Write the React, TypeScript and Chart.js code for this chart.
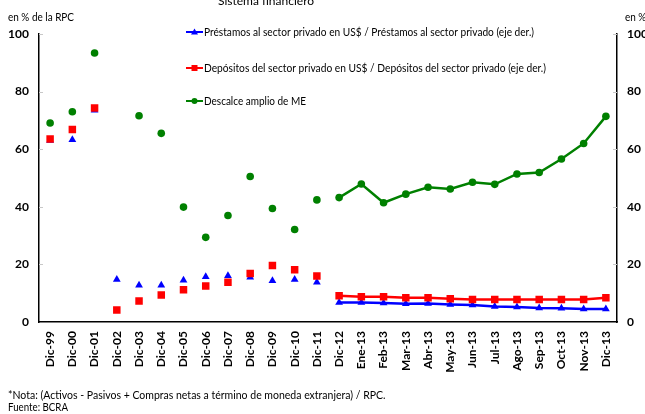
import React, { useEffect, useRef } from 'react';
import { Chart, registerables } from 'chart.js';

Chart.register(...registerables);

const categories = [
  'Dic-99', 'Dic-00', 'Dic-01', 'Dic-02', 'Dic-03', 'Dic-04', 'Dic-05', 'Dic-06', 'Dic-07',
  'Dic-08', 'Dic-09', 'Dic-10', 'Dic-11', 'Dic-12', 'Ene-13', 'Feb-13', 'Mar-13', 'Abr-13',
  'May-13', 'Jun-13', 'Jul-13', 'Ago-13', 'Sep-13', 'Oct-13', 'Nov-13', 'Dic-13',
];

const prestamos = [
  63.0, 63.3, 73.5, 14.8, 12.8, 12.8, 14.5, 15.7, 16.1, 15.5, 14.3, 14.8, 13.8,
  6.8, 6.8, 6.6, 6.3, 6.4, 6.1, 5.9, 5.4, 5.2, 4.9, 4.8, 4.5, 4.5,
];

const depositos = [
  63.5, 66.8, 74.3, 4.2, 7.3, 9.4, 11.2, 12.5, 13.8, 16.8, 19.6, 18.1, 16.0,
  9.1, 8.8, 8.8, 8.4, 8.4, 8.1, 7.8, 7.8, 7.8, 7.8, 7.8, 7.8, 8.4,
];

const descalce = [
  69.1, 73.0, 93.4, null, 71.6, 65.5, 39.9, 29.4, 37.0, 50.5, 39.4, 32.1, 42.4,
  43.2, 47.9, 41.4, 44.4, 46.8, 46.2, 48.5, 47.8, 51.4, 51.9, 56.6, 62.0, 71.4,
];

const yTicks = [0, 20, 40, 60, 80, 100];

const legendLabels = [
  'Préstamos al sector privado en US$ / Préstamos al sector privado (eje der.)',
  'Depósitos del sector privado en US$ / Depósitos del sector privado (eje der.)',
  'Descalce amplio de ME',
];

const titleText = 'Sistema financiero';
const leftUnit = 'en % de la RPC';
const rightUnit = 'en % de la RPC';
const noteText = '*Nota: (Activos - Pasivos + Compras netas a término de moneda extranjera) / RPC.';
const sourceText = 'Fuente: BCRA';

const FONT = 'Lato, "Open Sans", sans-serif';
const BLUE = '#0000ff';
const RED = '#ff0000';
const GREEN = '#008000';
const firstLinked = 13; // lines join points from Dic-12 on

const segColor = (color: string) => (ctx: any) =>
  ctx.p0DataIndex < firstLinked ? 'rgba(0,0,0,0)' : color;

const decorPlugin = {
  id: 'decor',
  afterDraw(chart: any) {
    const ctx = chart.ctx;
    const area = chart.chartArea;
    const y = chart.scales.y;
    ctx.save();
    // inner tick marks
    ctx.strokeStyle = '#c8c8c8';
    ctx.lineWidth = 1;
    yTicks.forEach((v) => {
      if (v === 0) return;
      const py = Math.round(y.getPixelForValue(v)) + 0.5;
      ctx.beginPath();
      ctx.moveTo(area.left, py);
      ctx.lineTo(area.left + 4, py);
      ctx.moveTo(area.right - 4, py);
      ctx.lineTo(area.right, py);
      ctx.stroke();
    });

    // title (clipped at top)
    ctx.fillStyle = '#000';
    ctx.textAlign = 'center';
    ctx.textBaseline = 'alphabetic';
    ctx.font = `12px ${FONT}`;
    ctx.fillText(titleText, 266, 5);

    // unit labels
    ctx.textAlign = 'left';
    ctx.textBaseline = 'middle';
    ctx.font = `12px ${FONT}`;
    ctx.fillText(leftUnit, 8, 17, 66);
    ctx.fillText(rightUnit, 625, 17, 66);

    // legend
    const items = [
      { color: BLUE, style: 'triangle', y: 32, w: 330 },
      { color: RED, style: 'rect', y: 68, w: 342 },
      { color: GREEN, style: 'circle', y: 101, w: 102 },
    ];
    items.forEach((it, i) => {
      ctx.strokeStyle = it.color;
      ctx.fillStyle = it.color;
      ctx.lineWidth = 2;
      ctx.beginPath();
      ctx.moveTo(186, it.y);
      ctx.lineTo(203, it.y);
      ctx.stroke();
      ctx.beginPath();
      const cx = 194.5;
      if (it.style === 'triangle') {
        ctx.moveTo(cx, it.y - 3.5);
        ctx.lineTo(cx + 3.5, it.y + 2.5);
        ctx.lineTo(cx - 3.5, it.y + 2.5);
        ctx.closePath();
      } else if (it.style === 'rect') {
        ctx.rect(cx - 3, it.y - 3, 6, 6);
      } else {
        ctx.arc(cx, it.y, 3, 0, Math.PI * 2);
      }
      ctx.fill();
      ctx.fillStyle = '#000';
      ctx.font = `11.5px ${FONT}`;
      ctx.textAlign = 'left';
      ctx.textBaseline = 'middle';
      ctx.fillText(legendLabels[i], 204, it.y, it.w);
    });

    // footnote
    ctx.font = `10.5px ${FONT}`;
    ctx.fillText(noteText, 8, 396, 392);
    ctx.fillText(sourceText, 8, 408, 60);
    ctx.restore();
  },
};

export default function App() {
  const canvasRef = useRef<HTMLCanvasElement | null>(null);

  useEffect(() => {
    document.body.style.margin = '0';
    const canvas = canvasRef.current;
    if (!canvas) return;
    const chart = new Chart(canvas, {
      type: 'line',
      data: {
        labels: categories,
        datasets: [
          {
            label: legendLabels[1],
            data: depositos,
            borderColor: RED,
            backgroundColor: RED,
            borderWidth: 2.5,
            pointStyle: 'rect',
            pointRadius: 5.3,
            pointBorderWidth: 0,
            segment: { borderColor: segColor(RED) },
            yAxisID: 'y',
          },
          {
            label: legendLabels[0],
            data: prestamos,
            borderColor: BLUE,
            backgroundColor: BLUE,
            borderWidth: 2.5,
            pointStyle: 'triangle',
            pointRadius: 4.5,
            pointBorderWidth: 0,
            segment: { borderColor: segColor(BLUE) },
            yAxisID: 'y',
          },
          {
            label: legendLabels[2],
            data: descalce,
            borderColor: GREEN,
            backgroundColor: GREEN,
            borderWidth: 2.5,
            pointStyle: 'circle',
            pointRadius: 3.8,
            pointBorderWidth: 0,
            segment: { borderColor: segColor(GREEN) },
            spanGaps: false,
            yAxisID: 'y',
          },
        ],
      },
      options: {
        animation: false,
        responsive: false,
        maintainAspectRatio: false,
        layout: { padding: { top: 34, left: 0, right: 0, bottom: 0 } },
        plugins: {
          legend: { display: false },
          tooltip: { enabled: false },
          title: { display: false },
        },
        scales: {
          x: {
            type: 'category',
            offset: true,
            grid: { display: false, drawTicks: false, tickLength: 0 },
            border: { display: true, color: '#000', width: 1.5 },
            ticks: {
              autoSkip: false,
              maxRotation: 90,
              minRotation: 90,
              padding: 9,
              color: '#000',
              font: { family: FONT, size: 12, weight: 'bold' },
            },
            afterFit: (s: any) => { s.height = 92; },
          },
          y: {
            position: 'left',
            min: 0,
            max: 100,
            grid: { display: false, drawTicks: false, tickLength: 0 },
            border: { display: true, color: '#000', width: 1.5 },
            ticks: {
              stepSize: 20,
              padding: 10,
              color: '#000',
              font: { family: FONT, size: 12, weight: 'bold' },
            },
            afterFit: (s: any) => { s.width = 39; },
          },
          y1: {
            position: 'right',
            min: 0,
            max: 100,
            grid: { display: false, drawTicks: false, tickLength: 0 },
            border: { display: true, color: '#000', width: 1.5 },
            ticks: {
              stepSize: 20,
              padding: 10,
              color: '#000',
              font: { family: FONT, size: 12, weight: 'bold' },
            },
            afterFit: (s: any) => { s.width = 28; },
          },
        },
      },
      plugins: [decorPlugin],
    });
    return () => chart.destroy();
  }, []);

  return (
    <div style={{ position: 'fixed', left: 0, top: 0, width: 645, height: 414, background: '#fff' }}>
      <canvas ref={canvasRef} width={645} height={414} style={{ width: 645, height: 414, display: 'block' }} />
    </div>
  );
}
